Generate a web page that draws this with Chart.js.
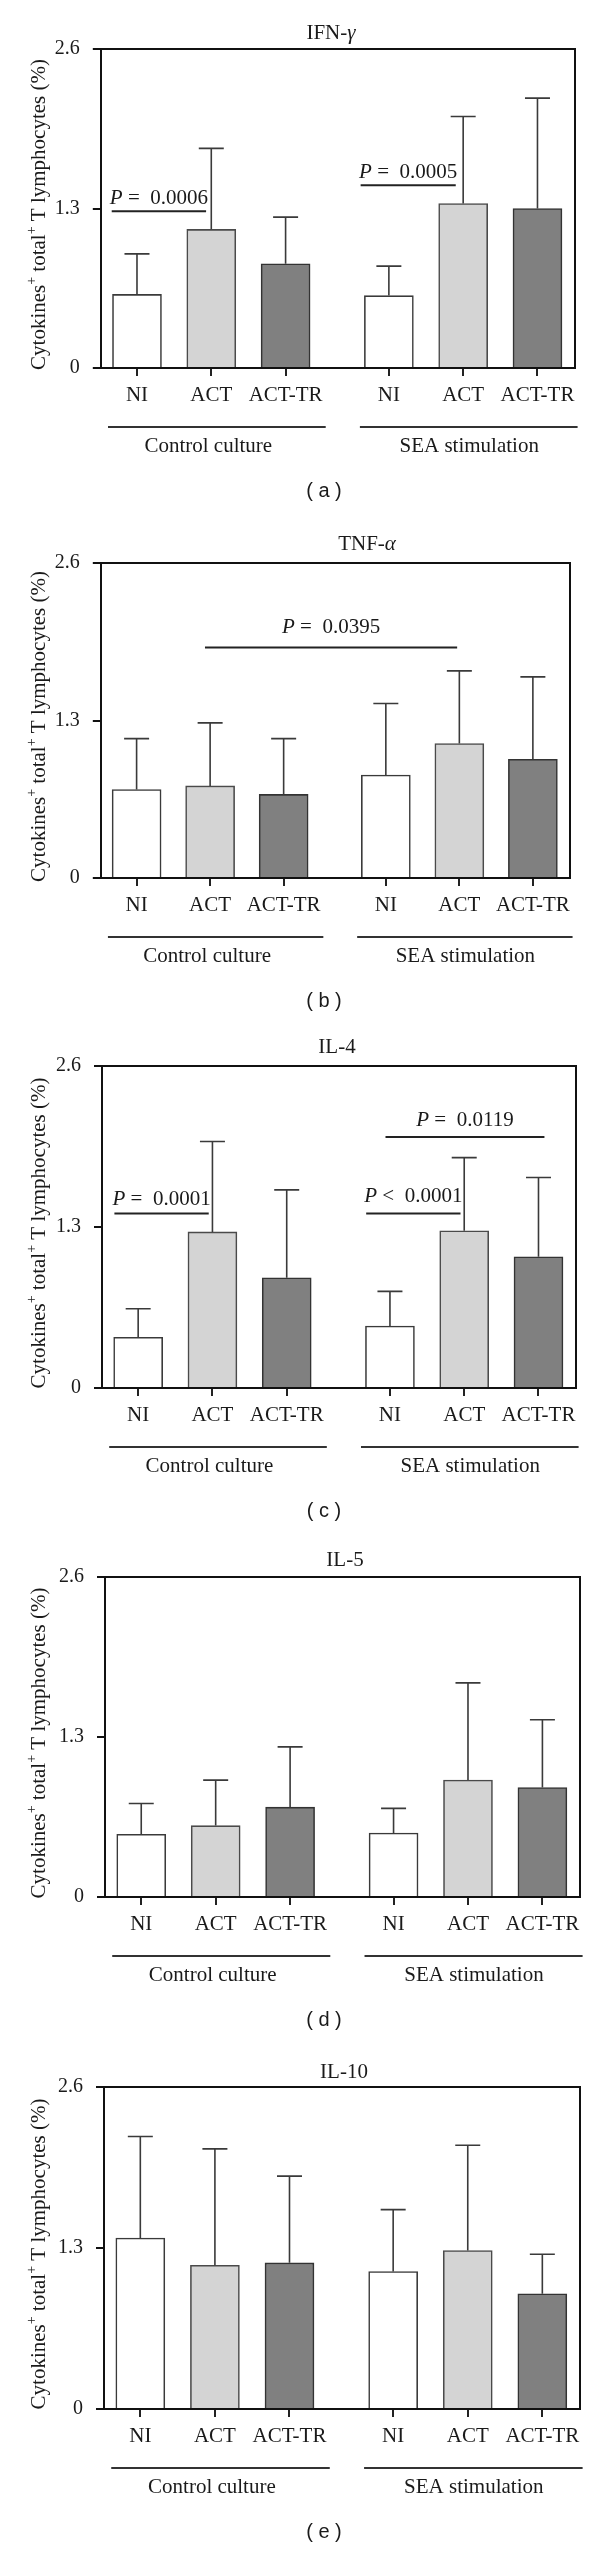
<!DOCTYPE html>
<html><head><meta charset="utf-8">
<script src="https://cdn.jsdelivr.net/npm/chart.js@4.4.1/dist/chart.umd.min.js"></script>
<style>
html,body{margin:0;padding:0;background:#fff;}
body{width:600px;height:2554px;position:relative;overflow:hidden;}
canvas{position:absolute;left:0;}
</style></head><body>
<script>
// ---------- data ----------
const categories = ['NI', 'ACT', 'ACT-TR', 'NI', 'ACT', 'ACT-TR'];
const groupLabels = ['Control culture', 'SEA stimulation'];
const yTickValues = [0, 1.3, 2.6];
const yTickLabels = ['0', '1.3', '2.6'];
const panelLetters = ['a', 'b', 'c', 'd', 'e'];
const cytokineTitles = [['IFN-', 'γ'], ['TNF-', 'α'], ['IL-4', ''], ['IL-5', ''], ['IL-10', '']];

const ifnMean = [0.60, 1.13, 0.85, 0.59, 1.34, 1.30];
const ifnSD   = [0.33, 0.66, 0.38, 0.24, 0.71, 0.90];
const tnfMean = [0.73, 0.76, 0.69, 0.85, 1.11, 0.98];
const tnfSD   = [0.42, 0.52, 0.46, 0.59, 0.60, 0.68];
const il4Mean = [0.41, 1.26, 0.89, 0.50, 1.27, 1.06];
const il4SD   = [0.23, 0.73, 0.71, 0.28, 0.59, 0.64];
const il5Mean = [0.51, 0.58, 0.73, 0.52, 0.95, 0.89];
const il5SD   = [0.25, 0.37, 0.49, 0.20, 0.79, 0.55];
const il10Mean = [1.38, 1.16, 1.18, 1.11, 1.28, 0.93];
const il10SD   = [0.82, 0.94, 0.70, 0.50, 0.85, 0.32];

// significance annotations: [op, p-value, fromCategory, toCategory, yValue]
const ifnStats = [['=', '0.0006', 0, 1, 1.277], ['=', '0.0005', 3, 4, 1.489]];
const tnfStats = [['=', '0.0395', 1, 4, 1.903]];
const il4Stats = [['=', '0.0001', 0, 1, 1.409], ['<', '0.0001', 3, 4, 1.409], ['=', '0.0119', 3, 5, 2.027]];
const il5Stats = [];
const il10Stats = [];

// ---------- layout / style ----------
const SERIF = '"Liberation Serif", "Times New Roman", serif';
const SANS = '"Liberation Sans", Arial, sans-serif';
const GROUP_GAP = 0.39;
const xPos = i => i + (i >= 3 ? GROUP_GAP : 0);
const fills = ['#ffffff', '#d4d4d4', '#808080', '#ffffff', '#d4d4d4', '#808080'];
const borders = ['#3a3a3a', '#4a4a4a', '#333333', '#3a3a3a', '#4a4a4a', '#333333'];

const panels = [
  {mean: ifnMean, sd: ifnSD, stats: ifnStats, plotTop: 49, plotH: 319, left: 100.8, right: 575, titleX: 331, titleDy: -16,
   statFx: [[-0.34, -0.07], [-0.38, -0.10]], statDy: [13, 13]},
  {mean: tnfMean, sd: tnfSD, stats: tnfStats, plotTop: 563, plotH: 315, left: 100.8, right: 570, titleX: 367, titleDy: -19,
   statFx: [[-0.07, -0.03]], statDy: [20]},
  {mean: il4Mean, sd: il4SD, stats: il4Stats, plotTop: 1066, plotH: 322, left: 102, right: 576, titleX: 337, titleDy: -19,
   statFx: [[-0.32, -0.05], [-0.32, -0.05], [-0.06, 0.08]], statDy: [14, 17, 16]},
  {mean: il5Mean, sd: il5SD, stats: il5Stats, plotTop: 1577, plotH: 320, left: 105, right: 580, titleX: 345, titleDy: -17,
   statFx: [], statDy: []},
  {mean: il10Mean, sd: il10SD, stats: il10Stats, plotTop: 2087, plotH: 322, left: 104, right: 580, titleX: 344, titleDy: -15,
   statFx: [], statDy: []},
];

const LOCAL_TOP = 49;
const CANVAS_H = 520;

function drawSegs(ctx, segs, x, y, align) {
  const ws = segs.map(s => { ctx.font = (s.it ? 'italic ' : '') + s.size + 'px ' + (s.fam || SERIF); return ctx.measureText(s.t).width; });
  const total = ws.reduce((a, b) => a + b, 0);
  let cx = align === 'center' ? x - total / 2 : (align === 'right' ? x - total : x);
  ctx.textAlign = 'left';
  ctx.textBaseline = 'middle';
  segs.forEach((s, i) => {
    ctx.font = (s.it ? 'italic ' : '') + s.size + 'px ' + (s.fam || SERIF);
    ctx.fillText(s.t, cx, y + (s.dy || 0));
    cx += ws[i];
  });
}

panels.forEach((p, pi) => {
  const cv = document.createElement('canvas');
  cv.width = 600; cv.height = CANVAS_H;
  cv.style.width = '600px'; cv.style.height = CANVAS_H + 'px';
  cv.style.top = (p.plotTop - LOCAL_TOP) + 'px';
  document.body.appendChild(cv);

  const X_AXIS_H = 40;
  const zeroLocal = LOCAL_TOP + p.plotH;

  const overlay = {
    id: 'overlay' + pi,
    afterDatasetsDraw(chart) {
      const ctx = chart.ctx;
      const ys = chart.scales.y;
      const meta = chart.getDatasetMeta(0);
      ctx.save();
      ctx.strokeStyle = '#3a3a3a';
      ctx.lineWidth = 1.6;
      meta.data.forEach((bar, i) => {
        const yt = ys.getPixelForValue(p.mean[i]);
        const ye = ys.getPixelForValue(p.mean[i] + p.sd[i]);
        ctx.beginPath();
        ctx.moveTo(bar.x, yt); ctx.lineTo(bar.x, ye);
        ctx.moveTo(bar.x - 12.5, ye); ctx.lineTo(bar.x + 12.5, ye);
        ctx.stroke();
      });
      ctx.restore();
    },
    afterDraw(chart) {
      const ctx = chart.ctx;
      const a = chart.chartArea;
      const xs = chart.scales.x, ys = chart.scales.y;
      ctx.save();
      // frame top & right
      ctx.strokeStyle = '#111';
      ctx.lineWidth = 2;
      ctx.beginPath();
      ctx.moveTo(a.left, a.top); ctx.lineTo(a.right, a.top); ctx.lineTo(a.right, a.bottom);
      ctx.stroke();
      ctx.fillStyle = '#1a1a1a';
      // title
      const tt = cytokineTitles[pi];
      drawSegs(ctx, [{t: tt[0], size: 21}, {t: tt[1], size: 21, it: true}], p.titleX, a.top + p.titleDy, 'center');
      // y axis title
      ctx.save();
      ctx.translate(39, (a.top + a.bottom) / 2 + 6);
      ctx.rotate(-Math.PI / 2);
      drawSegs(ctx, [
        {t: 'Cytokines', size: 21}, {t: '+', size: 14, dy: -7},
        {t: ' total', size: 21}, {t: '+', size: 14, dy: -7},
        {t: ' T lymphocytes (%)', size: 21}
      ], 0, 0, 'center');
      ctx.restore();
      // group lines and labels
      ctx.strokeStyle = '#333';
      ctx.lineWidth = 2;
      [[0, 2, -3], [3, 5, 6]].forEach((g, gi) => {
        const x1 = xs.getPixelForValue(xPos(g[0]) - 0.39);
        const x2 = xs.getPixelForValue(xPos(g[1]) + 0.54);
        const yl = a.bottom + 59;
        ctx.beginPath(); ctx.moveTo(x1, yl); ctx.lineTo(x2, yl); ctx.stroke();
        const xm = xs.getPixelForValue(xPos(g[0] + 1)) + g[2];
        drawSegs(ctx, [{t: groupLabels[gi], size: 21}], xm, a.bottom + 78, 'center');
      });
      // significance annotations
      p.stats.forEach((s, si) => {
        const fx = p.statFx[si];
        const x1 = xs.getPixelForValue(xPos(s[2]) + fx[0]);
        const x2 = xs.getPixelForValue(xPos(s[3]) + fx[1]);
        const yl = ys.getPixelForValue(s[4]);
        ctx.strokeStyle = '#222';
        ctx.lineWidth = 2;
        ctx.beginPath(); ctx.moveTo(x1, yl); ctx.lineTo(x2, yl); ctx.stroke();
        drawSegs(ctx, [{t: 'P', size: 21, it: true}, {t: ' ' + s[0] + '  ' + s[1], size: 21}], (x1 + x2) / 2, yl - p.statDy[si], 'center');
      });
      // panel letter
      drawSegs(ctx, [{t: '( ' + panelLetters[pi] + ' )', size: 20, fam: SANS}], 324, a.bottom + 123, 'center');
      ctx.restore();
    }
  };

  new Chart(cv, {
    type: 'bar',
    data: {
      datasets: [{
        data: p.mean.map((v, i) => ({x: xPos(i), y: v})),
        backgroundColor: fills,
        borderColor: borders,
        borderWidth: 1.6,
        barThickness: 49,
      }]
    },
    options: {
      responsive: false,
      animation: false,
      devicePixelRatio: 1,
      layout: {padding: {left: 0, top: LOCAL_TOP, right: 600 - p.right, bottom: CANVAS_H - zeroLocal - X_AXIS_H}},
      plugins: {legend: {display: false}, tooltip: {enabled: false}, title: {display: false}},
      scales: {
        x: {
          type: 'linear', min: -0.487, max: 5.895, offset: false,
          afterBuildTicks: s => { s.ticks = categories.map((c, i) => ({value: xPos(i)})); },
          afterFit: s => { s.height = X_AXIS_H; },
          ticks: {autoSkip: false, maxRotation: 0, minRotation: 0, padding: 7, color: '#1a1a1a',
                  font: {family: SERIF, size: 21},
                  callback: (v, i) => categories[i]},
          grid: {offset: false, display: true, drawOnChartArea: false, drawTicks: true, tickLength: 8, color: '#222', lineWidth: 2},
          border: {display: true, color: '#111', width: 2}
        },
        y: {
          min: 0, max: 2.6,
          afterBuildTicks: s => { s.ticks = yTickValues.map(v => ({value: v})); },
          afterFit: s => { s.width = p.left; },
          ticks: {padding: 13, color: '#1a1a1a', font: {family: SERIF, size: 20},
                  callback: (v, i) => yTickLabels[i]},
          grid: {display: true, drawOnChartArea: false, drawTicks: true, tickLength: 8, color: '#111', lineWidth: 2},
          border: {display: true, color: '#111', width: 2}
        }
      }
    },
    plugins: [overlay]
  });
});
</script>
</body></html>
